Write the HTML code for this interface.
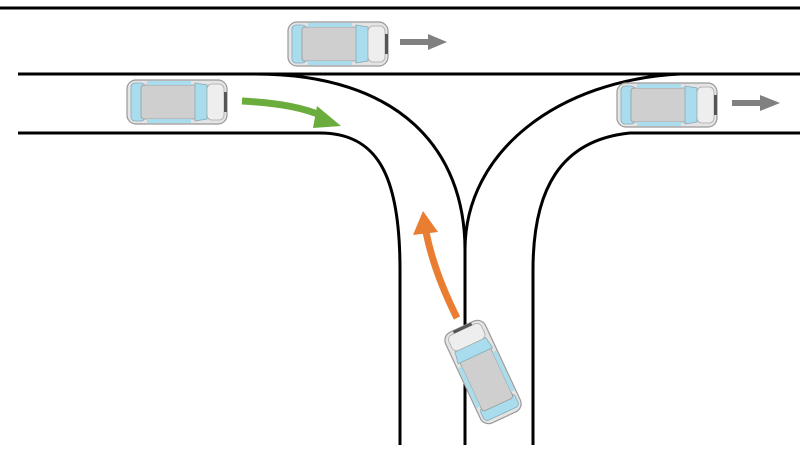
<!DOCTYPE html>
<html><head><style>body{margin:0;background:#fff}svg{display:block}</style></head><body>
<svg width="800" height="450" viewBox="0 0 800 450" xmlns="http://www.w3.org/2000/svg">
<defs>
<g id="car">
<rect x="-50" y="-22" width="100" height="44" rx="9" fill="#e4e4e4" stroke="#999" stroke-width="1.2"/>
<rect x="-46" y="-19" width="14" height="38" rx="4" fill="#a9dcec" stroke="#8ab" stroke-width="0.8"/>
<rect x="-36" y="-17" width="62" height="34" rx="3" fill="#cfcfcf" stroke="#999" stroke-width="0.8"/>
<path d="M18,-19 L30,-17 L30,17 L18,19 Z" fill="#a9dcec" stroke="#8ab" stroke-width="0.8"/>
<rect x="-30" y="-21" width="44" height="4" fill="#a9dcec"/>
<rect x="-30" y="17" width="44" height="4" fill="#a9dcec"/>
<rect x="30" y="-18" width="17" height="36" rx="5" fill="#eee" stroke="#aaa" stroke-width="0.8"/>
<rect x="47" y="-10" width="3" height="20" fill="#555"/>
</g>
</defs>
<g fill="none" stroke="#000" stroke-width="3">
<line x1="0" y1="8" x2="800" y2="8"/>
<line x1="18" y1="74" x2="800" y2="74"/>
<path d="M18,133 L320,133 C380,133 400,180 400,270 L400,445"/>
<path d="M800,133 L630,133 C560,140 533,190 533,270 L533,445"/>
<path d="M255,74 C400,74 465,150 465,250 L465,445"/>
<path d="M680,74 C560,80 465,150 465,250"/>
</g>
<use href="#car" transform="translate(338,44)"/>
<use href="#car" transform="translate(177,102)"/>
<use href="#car" transform="translate(667,105)"/>
<use href="#car" transform="translate(483,372) rotate(-115)"/>
<g fill="#808080"><rect x="400" y="39" width="30" height="6"/><path d="M428,34 L447,42 L428,50Z"/>
<rect x="732" y="100" width="30" height="6"/><path d="M760,95 L780,103 L760,111Z"/></g>
<path d="M242,101 C280,103 305,108 325,117" fill="none" stroke="#6aad3c" stroke-width="7"/>
<path d="M317,106 L341,126 L313,128Z" fill="#6aad3c"/>
<path d="M457,318 C443,290 432,262 426,232" fill="none" stroke="#e97e32" stroke-width="7"/>
<path d="M413,235 L423,211 L438,232Z" fill="#e97e32"/>
</svg>
</body></html>
